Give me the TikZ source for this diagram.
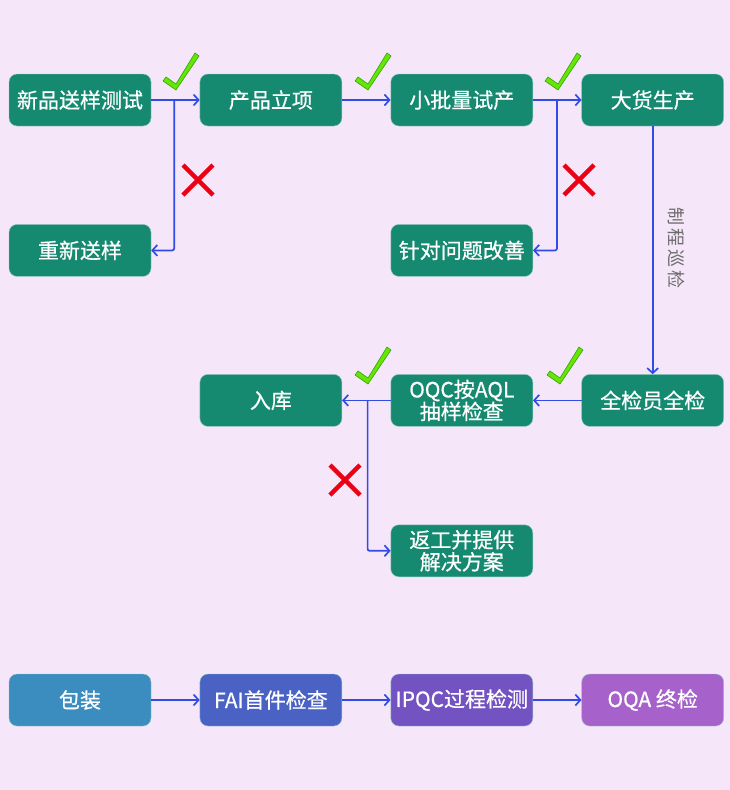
\documentclass[tikz,border=0pt]{standalone}
\usepackage{fontspec}
\newfontfamily\cjk[FakeBold=0.6]{Noto Sans CJK SC}
\newfontfamily\cjkside{Noto Sans CJK SC}
\usepackage{xcolor}
\usepackage{tikz}
\usetikzlibrary{positioning, arrows.meta, calc}
\definecolor{bgpink}{RGB}{245,230,250}
\definecolor{Teal}{RGB}{21,138,112}
\definecolor{Flow}{RGB}{48,76,228}
\definecolor{Pack}{RGB}{58,141,190}
\definecolor{Fai}{RGB}{74,98,196}
\definecolor{Ipqc}{RGB}{115,82,194}
\definecolor{Oqa}{RGB}{166,98,202}
\definecolor{Okgreen}{RGB}{102,230,0}
\definecolor{Okedge}{RGB}{50,160,20}
\definecolor{Nored}{RGB}{235,0,20}
\tikzstyle{st}=[%
      rectangle, rounded corners=8pt, draw=white!55!Teal, thin, fill=Teal, text=white,
      minimum width=142pt, minimum height=52pt, inner sep=2pt, align=center,
      font=\cjk\fontsize{21}{22}\selectfont
]
\tikzstyle{fl}=[%
      draw=Flow, line width=1.7pt, -{Straight Barb[length=5pt,width=11pt]}
]
\tikzstyle{sd}=[%
      text=gray!85!black, font=\cjkside\fontsize{18}{18}\selectfont, rotate=-90
]
\tikzset{
  pics/ok/.style={code={
    \filldraw[fill=Okgreen, draw=Okedge, line width=0.6pt]
      (0,0) -- (-13,-9) -- (-10,-13) -- (0,-6) -- (19,-37) -- (23,-34) -- cycle;}},
  pics/no/.style={code={
    \draw[Nored, line width=4.5pt] (-15,-15) -- (15,15) (-15,15) -- (15,-15);}}
}
\begin{document}
\begin{tikzpicture}[x=1pt, y=-1pt, node distance=98pt and 48.5pt]
    \fill[bgpink] (0,0) rectangle (730,790);

    \node[st] (test)              at (80,100)       {新品送样测试};
    \node[st] (proj)   [right = of test]  {产品立项};
    \node[st] (pilot)  [right = of proj]  {小批量试产};
    \node[st] (mass)   [right = of pilot] {大货生产};
    \node[st] (resend) [below = of test]  {重新送样};
    \node[st] (fix)    [below = of pilot] {针对问题改善};
    \node[st] (full)   [below = 248pt of mass] {全检员全检};
    \node[st] (oqc)    [left = of full]   {OQC按AQL\\抽样检查};
    \node[st] (store)  [left = of oqc]    {入库};
    \node[st] (rework) [below = of oqc]   {返工并提供\\解决方案};

    \node[st, fill=Pack] (pack)           at (80,700)       {包装};
    \node[st, fill=Fai]  (fai)  [right = of pack] {FAI首件检查};
    \node[st, fill=Ipqc] (ipqc) [right = of fai]  {IPQC过程检测};
    \node[st, fill=Oqa]  (oqa)  [right = of ipqc] {OQA 终检};

    \node[sd] (patrol) at ($(mass.south)!0.5!(full.north)+(24,-2)$) {制\,程\,巡\,检};

    \draw[fl] (test) -- (proj);
    \draw[fl, rounded corners=2pt] ($(test.east)+(23,0)$) |- (resend);
    \draw[fl] (proj) -- (pilot);
    \draw[fl] (pilot) -- (mass);
    \draw[fl, rounded corners=2pt] ($(pilot.east)+(24,0)$) |- (fix);
    \draw[fl] (mass) -- (full);
    \draw[fl] (full) -- (oqc);
    \draw[fl] (oqc) -- (store);
    \draw[fl, rounded corners=2pt] ($(oqc.west)+(-23,0)$) |- (rework);
    \draw[fl] (pack) -- (fai);
    \draw[fl] (fai) -- (ipqc);
    \draw[fl] (ipqc) -- (oqa);

    \pic at (176,90) {ok};
    \pic at (368,90) {ok};
    \pic at (558,90) {ok};
    \pic at (368,384) {ok};
    \pic at (560,384) {ok};
    \pic at (198,180) {no};
    \pic at (579,180) {no};
    \pic at (345,480) {no};
\end{tikzpicture}
\end{document}
